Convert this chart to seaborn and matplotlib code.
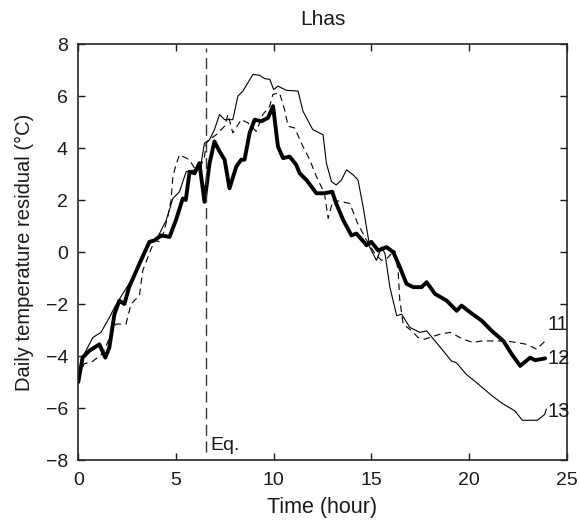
import numpy as np
import pandas as pd
import matplotlib
matplotlib.use('Agg')
import matplotlib.pyplot as plt
import seaborn as sns

# series (time in hours, residual in deg C)
t11 = [0, 0.3, 0.74, 1.25, 1.6, 1.93, 2.44, 2.7, 3.13, 3.3, 3.9, 4.15, 4.33, 4.58, 4.75, 4.84, 5.0, 5.18, 5.69, 5.95, 6.29, 6.46, 6.55, 6.8, 7.06, 7.49, 7.66, 7.91, 8.34, 8.68, 9.11, 9.45, 9.8, 9.96, 10.3, 10.56, 10.74, 11.08, 11.5, 11.85, 12.19, 12.6, 12.79, 13.04, 13.9, 14.3, 14.76, 15.18, 15.52, 15.78, 16.2, 16.37, 16.46, 16.63, 17.06, 17.4, 17.74, 18.51, 19.03, 19.7, 20.2, 20.65, 21.93, 22.96, 23.47, 23.64, 23.9]
v11 = [-4.8, -4.3, -4.2, -3.9, -3.3, -2.77, -2.77, -2.0, -1.67, -0.71, 0.45, 0.39, 0.65, 1.35, 2.0, 2.9, 3.35, 3.74, 3.55, 3.22, 3.35, 3.67, 4.19, 4.38, 4.51, 4.84, 5.29, 4.58, 5.09, 4.97, 4.64, 5.29, 5.61, 6.06, 6.12, 5.48, 4.84, 4.77, 4.06, 3.55, 2.9, 2.26, 1.29, 2.0, 1.87, 1.1, 0.45, -0.06, -0.32, -0.26, 0.06, -0.71, -1.87, -2.77, -3.03, -3.29, -3.35, -3.16, -3.09, -3.35, -3.48, -3.42, -3.42, -3.55, -3.74, -3.61, -3.42]

t12 = [0, 0.22, 0.56, 1.08, 1.38, 1.59, 1.85, 2.1, 2.36, 2.6, 3.13, 3.64, 3.9, 4.24, 4.67, 5.0, 5.35, 5.5, 5.7, 5.95, 6.2, 6.46, 6.72, 6.97, 7.23, 7.49, 7.74, 8.09, 8.34, 8.51, 8.77, 9.03, 9.37, 9.71, 9.97, 10.22, 10.48, 10.82, 11.16, 11.33, 11.68, 12.19, 12.6, 13.0, 13.2, 13.56, 13.98, 14.24, 14.76, 15.0, 15.35, 15.78, 16.12, 16.46, 16.8, 17.15, 17.57, 17.83, 18.26, 18.86, 19.37, 19.62, 20.06, 20.65, 21.16, 21.76, 22.19, 22.62, 23.13, 23.38, 23.9]
v12 = [-5.0, -4.06, -3.8, -3.55, -4.06, -3.67, -2.39, -1.87, -2.0, -1.35, -0.45, 0.39, 0.45, 0.64, 0.58, 1.23, 2.06, 2.0, 3.09, 3.03, 3.42, 1.93, 3.42, 4.25, 3.87, 3.55, 2.45, 3.29, 3.55, 3.55, 4.58, 5.09, 5.03, 5.16, 5.61, 4.06, 3.61, 3.67, 3.35, 3.03, 2.77, 2.26, 2.26, 2.32, 1.87, 1.23, 0.64, 0.71, 0.26, 0.39, 0.06, 0.19, 0.0, -0.58, -1.22, -1.35, -1.35, -1.16, -1.61, -1.87, -2.26, -2.06, -2.32, -2.64, -3.03, -3.42, -3.93, -4.38, -4.06, -4.16, -4.09]

t13 = [0, 0.3, 0.74, 1.16, 1.6, 1.85, 2.27, 2.7, 3.13, 3.64, 4.07, 4.5, 4.84, 5.18, 5.52, 5.95, 6.29, 6.46, 6.72, 6.97, 7.23, 7.49, 7.91, 8.17, 8.43, 8.68, 8.94, 9.28, 9.54, 9.8, 10.0, 10.22, 10.65, 11.25, 11.5, 12.0, 12.53, 12.7, 12.96, 13.2, 13.47, 13.73, 14.07, 14.32, 14.58, 14.92, 15.26, 15.52, 15.7, 15.95, 16.3, 16.55, 16.97, 17.49, 17.83, 18.26, 18.68, 19.1, 19.36, 19.87, 20.3, 21.2, 21.7, 22.35, 22.73, 23.5, 23.87, 23.96]
v13 = [-4.8, -3.93, -3.29, -3.09, -2.51, -2.13, -1.61, -1.1, -0.52, 0.32, 0.58, 1.22, 2.06, 2.32, 3.09, 3.16, 3.42, 4.19, 4.32, 4.71, 5.29, 5.09, 5.09, 6.0, 6.19, 6.51, 6.83, 6.8, 6.67, 6.64, 6.25, 6.38, 6.22, 6.19, 5.42, 4.71, 4.51, 3.42, 2.71, 2.58, 2.77, 3.16, 2.97, 2.77, 1.74, 0.19, -0.32, 0.19, -0.06, -1.35, -2.45, -2.39, -2.9, -3.09, -3.03, -3.42, -3.8, -4.19, -4.26, -4.71, -4.97, -5.54, -5.82, -6.11, -6.47, -6.47, -6.25, -6.04]

labels = ['11', '12', '13']
label_y = [-2.8, -4.1, -6.15]
eq_time = 6.55

sns.set_style('ticks')
plt.rcParams['font.family'] = ['Liberation Sans', 'DejaVu Sans']
plt.rcParams['xtick.direction'] = 'in'
plt.rcParams['ytick.direction'] = 'in'
plt.rcParams['xtick.top'] = True
plt.rcParams['ytick.right'] = True
for k in ['text.color', 'axes.labelcolor', 'xtick.color', 'ytick.color']:
    plt.rcParams[k] = '#1a1a1a'
plt.rcParams['axes.edgecolor'] = '#262626'

fig = plt.figure(figsize=(5.8, 5.21), dpi=100)
ax = fig.add_axes([0.135, 0.117, 0.842, 0.7985])

sns.lineplot(x=t11, y=v11, color='black', linewidth=0.8, ax=ax,
             linestyle=(0, (6, 4)))
sns.lineplot(x=t13, y=v13, color='black', linewidth=0.8, ax=ax)
sns.lineplot(x=t12, y=v12, color='black', linewidth=2.8, ax=ax)

ax.axvline(eq_time, ymin=0.02, ymax=0.99, color='#333333', linewidth=1.0,
           linestyle=(0, (8, 4)))
ax.text(eq_time + 0.2, -7.45, 'Eq.', fontsize=14, ha='left', va='center')

for lab, yy in zip(labels, label_y):
    ax.text(24.0, yy, lab, fontsize=14.5, ha='left', va='center')

ax.set_xlim(0, 25)
ax.set_ylim(-8, 8)
ax.set_xticks([0, 5, 10, 15, 20, 25])
ax.set_yticks([-8, -6, -4, -2, 0, 2, 4, 6, 8])
ax.tick_params(labelsize=14, length=5, width=1)
ax.tick_params(axis='x', pad=8.5)
ax.tick_params(axis='y', pad=7.5)
for s in ax.spines.values():
    s.set_linewidth(1.2)
    s.set_visible(True)
ax.set_xlabel('Time (hour)', fontsize=15.5, labelpad=6)
ax.set_ylabel('Daily temperature residual (°C)', fontsize=14.5, labelpad=8)
ax.set_title('Lhas', fontsize=15, pad=14)

fig.savefig('out.png', dpi=100)
